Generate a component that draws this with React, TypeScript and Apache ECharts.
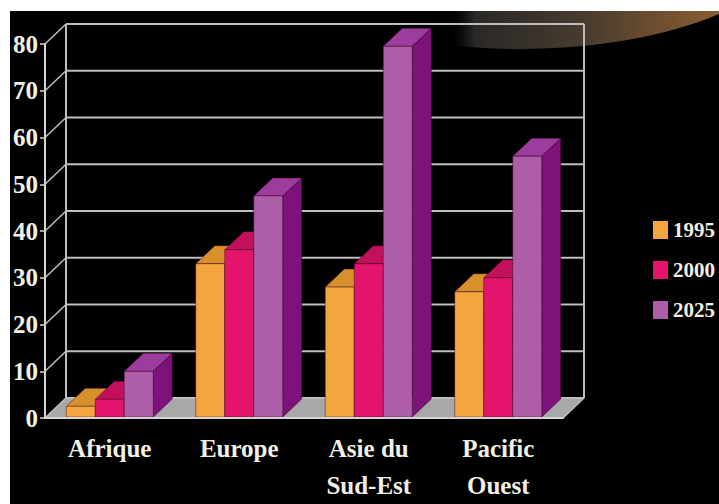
import React, { useEffect, useRef } from 'react';
import * as echarts from 'echarts';

const CATEGORIES = ['Afrique', 'Europe', 'Asie du\nSud-Est', 'Pacific\nOuest'];
const YEARS = ['1995', '2000', '2025'];
const VALUES_1995 = [2.5, 33, 28, 27];
const VALUES_2000 = [4, 36, 33, 30];
const VALUES_2025 = [10, 47.5, 79.5, 56];
const Y_TICKS = [0, 10, 20, 30, 40, 50, 60, 70, 80];

const FRONT = ['#F4A63E', '#E4136C', '#AE5EA9'];
const TOP = ['#D8902C', '#C2105C', '#9C3C9C'];
const SIDE = ['#B87818', '#9E0A4A', '#7D127A'];
const EDGE = 'rgba(50,0,30,0.55)';
const GRID = '#BEBEBE';
const TEXT = '#F2F0E4';
const FONT = '"Liberation Serif", "Times New Roman", serif';

const BAR_DEPTH = [19, -18];
const WALL_DEPTH = [21, -20];

function barRenderer(s: number) {
  return (params: any, api: any) => {
    const idx = api.value(0);
    const v = api.value(1);
    const top = api.coord([idx, v]);
    const base = api.coord([idx, 0]);
    const bw = api.size([1, 0])[0] * 0.224;
    const x0 = top[0] - 1.5 * bw + s * bw;
    const x1 = x0 + bw;
    const yT = top[1];
    const yB = base[1] - 1;
    const [dx, dy] = BAR_DEPTH;
    return {
      type: 'group',
      children: [
        {
          type: 'polygon',
          shape: { points: [[x1, yT], [x1 + dx, yT + dy], [x1 + dx, yB + dy], [x1, yB]] },
          style: { fill: SIDE[s], stroke: EDGE, lineWidth: 0.8 },
        },
        {
          type: 'polygon',
          shape: { points: [[x0, yT], [x1, yT], [x1 + dx, yT + dy], [x0 + dx, yT + dy]] },
          style: { fill: TOP[s], stroke: EDGE, lineWidth: 0.8 },
        },
        {
          type: 'rect',
          shape: { x: x0, y: yT, width: bw, height: yB - yT },
          style: { fill: FRONT[s], stroke: EDGE, lineWidth: 0.8 },
        },
      ],
    };
  };
}

export default function App() {
  const ref = useRef<HTMLDivElement>(null);
  useEffect(() => {
    if (!ref.current) return;
    const chart = echarts.init(ref.current, undefined, { renderer: 'svg' });
    const seriesValues = [VALUES_1995, VALUES_2000, VALUES_2025];
    const option: any = {
      animation: false,
      backgroundColor: '#000000',
      graphic: [
        {
          type: 'ellipse',
          z: -1,
          shape: { cx: 520, cy: -69, rx: 280, ry: 118 },
          style: {
            fill: new echarts.graphic.LinearGradient(0, 0, 1, 0, [
              { offset: 0, color: 'rgba(0,0,0,0)' },
              { offset: 0.38, color: 'rgba(30,30,30,0)' },
              { offset: 0.42, color: 'rgba(50,48,46,0.85)' },
              { offset: 0.6, color: '#463a2e' },
              { offset: 0.85, color: '#8a5b32' },
              { offset: 1, color: '#a56d3a' },
            ]),
          },
        },
        { type: 'rect', z: 100, shape: { x: 0, y: 0, width: 719, height: 11 }, style: { fill: '#ffffff' } },
        { type: 'rect', z: 100, shape: { x: 0, y: 0, width: 10, height: 504 }, style: { fill: '#ffffff' } },
      ],
      legend: {
        data: YEARS,
        orient: 'vertical',
        left: 648,
        top: 213,
        icon: 'rect',
        itemWidth: 15,
        itemHeight: 18,
        itemGap: 16,
        selectedMode: false,
        textStyle: { color: TEXT, fontSize: 21, fontFamily: FONT, fontWeight: 'bold', lineHeight: 24 },
      },
      grid: { left: 45, right: 156, top: 44, bottom: 85, containLabel: false },
      xAxis: {
        type: 'category',
        data: CATEGORIES,
        z: 5,
        axisLine: { lineStyle: { color: '#D4D4D4', width: 2 } },
        axisTick: { length: 6, lineStyle: { color: '#D4D4D4', width: 1.5 } },
        axisLabel: {
          color: TEXT,
          fontFamily: FONT,
          fontWeight: 'bold',
          fontSize: 25,
          lineHeight: 37,
          margin: 12,
        },
      },
      yAxis: {
        type: 'value',
        min: 0,
        max: 80,
        interval: 10,
        z: 5,
        axisLine: { show: true, lineStyle: { color: '#D4D4D4', width: 2 } },
        axisTick: { show: true, length: 5, lineStyle: { color: '#D4D4D4', width: 1.5 } },
        splitLine: { show: false },
        axisLabel: {
          color: TEXT,
          fontFamily: FONT,
          fontWeight: 'bold',
          fontSize: 25,
          margin: 7,
          padding: [5, 0, 0, 0],
        },
      },
      series: [
        {
          type: 'custom',
          name: 'floor',
          silent: true,
          z: 1,
          data: [[0, 0]],
          encode: { x: 0, y: 1 },
          renderItem: (params: any, api: any) => {
            const cs = params.coordSys;
            const xl = cs.x;
            const xr = cs.x + cs.width;
            const yt = cs.y;
            const yb = api.coord([0, 0])[1];
            const [dx, dy] = WALL_DEPTH;
            return {
              type: 'group',
              children: [
                {
                  type: 'polygon',
                  shape: { points: [[xl, yb], [xr, yb], [xr + dx, yb + dy], [xl + dx, yb + dy]] },
                  style: { fill: '#A8A8A8' },
                },
                { type: 'line', shape: { x1: xl + dx, y1: yt + dy, x2: xl + dx, y2: yb + dy }, style: { stroke: GRID, lineWidth: 2 } },
                { type: 'line', shape: { x1: xr + dx, y1: yt + dy, x2: xr + dx, y2: yb + dy }, style: { stroke: GRID, lineWidth: 2 } },
                { type: 'line', shape: { x1: xr, y1: yb, x2: xr + dx, y2: yb + dy }, style: { stroke: GRID, lineWidth: 1.5 } },
              ],
            };
          },
        },
        {
          type: 'custom',
          name: 'grid',
          silent: true,
          z: 1,
          data: Y_TICKS.map((v) => [0, v]),
          encode: { x: 0, y: 1 },
          renderItem: (params: any, api: any) => {
            const cs = params.coordSys;
            const xl = cs.x;
            const xr = cs.x + cs.width;
            const y = api.coord([0, api.value(1)])[1];
            const [dx, dy] = WALL_DEPTH;
            return {
              type: 'group',
              children: [
                { type: 'line', shape: { x1: xl, y1: y, x2: xl + dx, y2: y + dy }, style: { stroke: GRID, lineWidth: 1.5 } },
                { type: 'line', shape: { x1: xl + dx, y1: y + dy, x2: xr + dx, y2: y + dy }, style: { stroke: GRID, lineWidth: 2 } },
              ],
            };
          },
        },
        ...YEARS.map((year, s) => ({
          type: 'custom',
          name: year,
          z: 2,
          itemStyle: { color: FRONT[s] },
          data: seriesValues[s].map((v, i) => [i, v]),
          encode: { x: 0, y: 1 },
          renderItem: barRenderer(s),
        })),
      ],
    };
    chart.setOption(option);
    return () => chart.dispose();
  }, []);
  return (
    <div
      ref={ref}
      style={{ position: 'absolute', left: 0, top: 0, width: 719, height: 504 }}
    />
  );
}
